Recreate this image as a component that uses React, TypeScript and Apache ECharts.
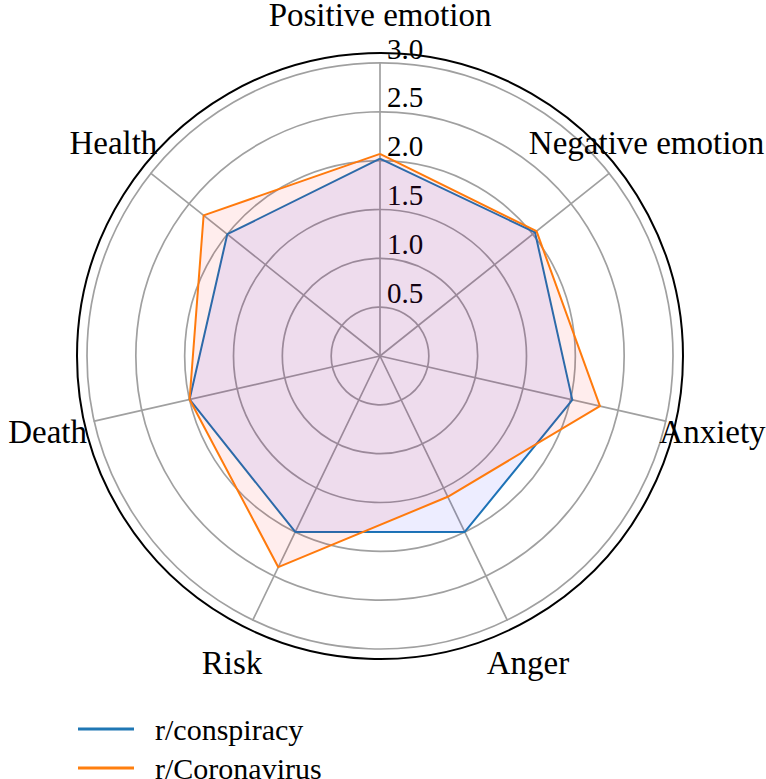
import React, { useEffect, useRef } from 'react';
import * as echarts from 'echarts';

const categories = ['Positive emotion', 'Negative emotion', 'Anxiety', 'Anger', 'Risk', 'Death', 'Health'];
const conspiracy = [2.02, 2.03, 2.02, 2.0, 2.0, 2.0, 2.0];
const coronavirus = [2.07, 2.05, 2.31, 1.6, 2.4, 2.0, 2.31];
const seriesNames = ['r/conspiracy', 'r/Coronavirus'];
const axisMax = 3;
const axisSplits = 6;

const FONT = 'Liberation Serif';
const LEGEND_FONT = "'Liberation Serif', 'Times New Roman', serif";

export default function App() {
  const ref = useRef<HTMLDivElement>(null);
  useEffect(() => {
    document.body.style.margin = '0';
    const chart = echarts.init(ref.current!, null, { renderer: 'svg' });
    // ECharts lays indicators counter-clockwise; reorder so they read clockwise like the reference
    const order = [0, ...categories.slice(1).map((_, i) => categories.length - 1 - i)];
    const indicator = order.map((k, j) => ({
      name: categories[k],
      min: 0,
      max: axisMax,
      axisLabel: { show: j === 0 },
    }));
    const reorder = (arr: number[]) => order.map((k) => arr[k]);
    const gray = '#a0a0a0';
    chart.setOption({
      animation: false,
      backgroundColor: '#fff',
      textStyle: { fontFamily: FONT },
      legend: {
        orient: 'vertical',
        left: 73,
        top: 709,
        height: 90,
        itemWidth: 56,
        itemHeight: 3,
        itemGap: 9,
        icon: 'rect',
        data: seriesNames,
        formatter: (name: string) => `{t|${name}}`,
        textStyle: {
          fontFamily: LEGEND_FONT,
          fontSize: 30,
          color: '#000',
          rich: {
            t: { fontFamily: LEGEND_FONT, fontSize: 30, color: '#000', lineHeight: 30, padding: [0, 0, 0, 16] },
          },
        },
      },
      radar: [
        {
          center: [380, 356],
          radius: 293,
          startAngle: 90,
          shape: 'circle',
          splitNumber: axisSplits,
          indicator,
          nameGap: 48,
          axisName: {
            fontFamily: FONT,
            fontSize: 33,
            color: '#000',
            align: 'center',
            verticalAlign: 'middle',
          },
          axisLine: { show: true, lineStyle: { color: gray, width: 1.7 } },
          splitLine: { show: true, lineStyle: { color: gray, width: 1.7 } },
          splitArea: { show: false },
          axisTick: { show: false },
          axisLabel: {
            fontFamily: FONT,
            fontSize: 29,
            color: '#000',
            margin: -7,
            align: 'left',
            verticalAlign: 'bottom',
            formatter: (v: number) => (v === 0 ? '' : v.toFixed(1)),
          },
        },
        {
          center: [380, 356],
          radius: 303,
          startAngle: 90,
          shape: 'circle',
          splitNumber: 1,
          indicator: indicator.map(() => ({ name: '', min: 0, max: 1 })),
          axisName: { show: false },
          axisLine: { show: false },
          axisTick: { show: false },
          axisLabel: { show: false },
          splitArea: { show: false },
          splitLine: { show: true, lineStyle: { color: '#000', width: 2 } },
        },
      ],
      series: [
        {
          type: 'radar',
          radarIndex: 0,
          symbol: 'none',
          data: [
            {
              name: seriesNames[0],
              value: reorder(conspiracy),
              lineStyle: { color: '#1f77b4', width: 2 },
              itemStyle: { color: '#1f77b4' },
              areaStyle: { color: 'rgba(0,0,255,0.1)' },
            },
            {
              name: seriesNames[1],
              value: reorder(coronavirus),
              lineStyle: { color: '#ff7f0e', width: 2 },
              itemStyle: { color: '#ff7f0e' },
              areaStyle: { color: 'rgba(255,0,0,0.1)' },
            },
          ],
        },
      ],
    });
    return () => chart.dispose();
  }, []);
  return <div ref={ref} style={{ width: 766, height: 779 }} />;
}
